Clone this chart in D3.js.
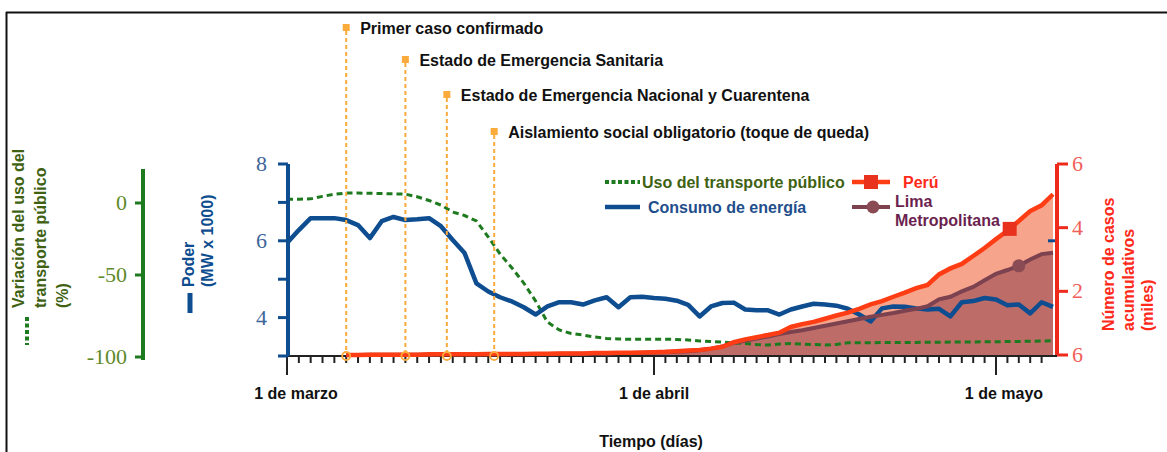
<!DOCTYPE html>
<html><head><meta charset="utf-8">
<script src="https://cdn.jsdelivr.net/npm/d3@7"></script>
<style>body{margin:0;background:#fff}svg{display:block}text{font-family:"Liberation Sans",Arial,sans-serif}</style>
</head><body>
<svg id="c" width="1167" height="452"></svg>
<script>
// ---------------- DATA ----------------
const monthTicks = [0, 31, 61];               // day index of 1 Mar, 1 Apr, 1 May
const monthLabels = ["1 de marzo", "1 de abril", "1 de mayo"];
const lastDay = 66;
// Consumo de energía (MW x 1000), day 0..66
const energy = [5.94,6.28,6.59,6.59,6.59,6.54,6.41,6.07,6.51,6.62,6.54,6.56,6.59,6.38,6.02,5.68,4.89,4.68,4.53,4.42,
  4.27,4.08,4.29,4.40,4.40,4.34,4.45,4.53,4.27,4.53,4.54,4.51,4.49,4.44,4.33,4.03,4.29,4.38,4.39,4.21,
  4.19,4.19,4.08,4.21,4.29,4.36,4.34,4.31,4.23,4.08,3.90,4.24,4.29,4.28,4.24,4.21,4.23,4.03,4.40,4.43,
  4.51,4.47,4.32,4.34,4.11,4.40,4.28];
// Variación del uso del transporte público (%), day 0..66
const transport = [2.6,2.6,2.8,4.5,5.9,6.7,6.7,6.6,6.4,6.2,6.0,4.2,1.7,-1.4,-6.3,-8.7,-12.5,-23.6,-35.4,-45.1,
  -54.9,-65.9,-78.7,-83.5,-85.7,-86.6,-87.8,-88.7,-89.0,-89.2,-89.2,-89.2,-89.2,-89.3,-89.6,-90.2,-90.5,-90.9,-91.5,-91.8,
  -92.4,-92.7,-92.1,-91.8,-92.1,-92.4,-92.7,-92.4,-91.3,-91.3,-91.3,-91.2,-91.2,-91.1,-91.1,-91.0,-91.0,-90.9,-90.9,-90.8,
  -90.7,-90.7,-90.6,-90.5,-90.4,-90.3,-90.1];
// Casos acumulativos (miles), from day 5 to 66
const casesStart = 5;
const peru = [0.00,0.00,0.01,0.01,0.01,0.01,0.01,0.02,0.02,0.02,0.02,0.02,0.03,0.03,0.03,0.03,0.04,0.04,0.05,0.05,
  0.05,0.06,0.06,0.07,0.07,0.08,0.09,0.10,0.12,0.14,0.16,0.20,0.26,0.40,0.49,0.56,0.63,0.70,0.88,0.97,
  1.04,1.14,1.24,1.33,1.45,1.59,1.69,1.83,1.96,2.10,2.20,2.53,2.72,2.86,3.11,3.36,3.64,3.90,4.21,4.52,
  4.70,5.05];
const lima = [0.00,0.00,0.01,0.01,0.01,0.01,0.01,0.01,0.02,0.02,0.02,0.02,0.02,0.02,0.03,0.03,0.03,0.03,0.04,0.04,
  0.04,0.05,0.05,0.06,0.06,0.07,0.08,0.09,0.10,0.12,0.15,0.20,0.27,0.38,0.45,0.52,0.58,0.66,0.72,0.78,
  0.85,0.92,0.99,1.06,1.13,1.20,1.26,1.32,1.39,1.45,1.53,1.75,1.83,2.00,2.14,2.35,2.55,2.67,2.80,3.00,
  3.17,3.21];
const peruMarkerDay = 62.2, limaMarkerDay = 63;
// Eventos
const events = ["Primer caso confirmado","Estado de Emergencia Sanitaria","Estado de Emergencia Nacional y Cuarentena","Aislamiento social obligatorio (toque de queda)"];
const eventDays = [5, 10, 13.5, 17.5];
// Axis ticks
const powerTicks = [3,4,5,6,7,8], powerLabels = [4,6,8];
const transTicks = [0,-50,-100];
const caseTicks = [0,2,4,6], caseTickLabels = ["6","2","4","6"];

// ---------------- DRAW ----------------
const svg = d3.select("#c");
const C = {blue:"#0e4d8f", blueTxt:"#3d6699", green:"#1e7a1e", greenTxt:"#5f8a2a", greenTitle:"#3f6212",
  red:"#ff3d14", redAxis:"#ee2a1a", redTxt:"#f0605a", peruFill:"#f7a48c", limaFill:"#bd6c67", lima:"#7d4250",
  orange:"#fbaa3c", limaTxt:"#6b1f4f"};

const x = d3.scaleLinear().domain(monthTicks).range([287, 654, 996]);
const yP = d3.scaleLinear().domain([3, 8]).range([356, 164]);
const yT = d3.scaleLinear().domain([-100, -50, 0, 23]).range([357, 275, 203, 169]);
const yC = d3.scaleLinear().domain([0, 6]).range([355, 164]);
const axisY = 356;

// frame
svg.append("line").attr("x1",6).attr("x2",1167).attr("y1",12.5).attr("y2",12.5).attr("stroke","#111").attr("stroke-width",2);
svg.append("line").attr("x1",6.5).attr("x2",6.5).attr("y1",12).attr("y2",452).attr("stroke","#111").attr("stroke-width",2);

const caseDays = peru.map((_, i) => i + casesStart);
const areaP = d3.area().x((d,i)=>x(caseDays[i])).y0(yC(0)).y1(d=>yC(d));
svg.append("path").datum(peru).attr("d", areaP).attr("fill", C.peruFill);
svg.append("path").datum(lima).attr("d", areaP).attr("fill", C.limaFill);

// x axis
svg.append("line").attr("x1",x(0)).attr("x2",1057).attr("y1",axisY).attr("y2",axisY).attr("stroke","#222").attr("stroke-width",2);
const minor = d3.range(0, lastDay);
svg.append("g").selectAll("line").data(minor).join("line")
  .attr("x1",d=>x(d)).attr("x2",d=>x(d)).attr("y1",axisY).attr("y2",d=>monthTicks.includes(d)?axisY+19:axisY+7)
  .attr("stroke","#222").attr("stroke-width",2);
svg.append("g").selectAll("text").data(monthTicks).join("text")
  .attr("x",(d,i)=>x(d)+ [9,0,8][i]).attr("y",399).attr("text-anchor","middle")
  .attr("font-size",16).attr("font-weight","bold").attr("fill","#111").text((d,i)=>monthLabels[i]);
svg.append("text").attr("x",651).attr("y",447).attr("text-anchor","middle").attr("font-size",16).attr("font-weight","bold").attr("fill","#111").text("Tiempo (días)");

// lines
const dayIdx = energy.map((_, i) => i);
svg.append("path").datum(transport).attr("fill","none").attr("stroke",C.green).attr("stroke-width",3).attr("stroke-dasharray","6,4")
  .attr("d", d3.line().x((d,i)=>x(dayIdx[i])).y(d=>yT(d)));
svg.append("path").datum(energy).attr("fill","none").attr("stroke",C.blue).attr("stroke-width",4.5).attr("stroke-linejoin","round")
  .attr("d", d3.line().x((d,i)=>x(dayIdx[i])).y(d=>yP(d)));
svg.append("path").datum(lima).attr("fill","none").attr("stroke",C.lima).attr("stroke-width",4)
  .attr("d", d3.line().x((d,i)=>x(caseDays[i])).y(d=>yC(d)));
svg.append("path").datum(peru).attr("fill","none").attr("stroke",C.red).attr("stroke-width",4.5)
  .attr("d", d3.line().x((d,i)=>x(caseDays[i])).y(d=>yC(d)));
// markers on series
const interp = (arr, day) => { const i = Math.floor(day - casesStart), f = day - casesStart - i; return arr[i] + (arr[Math.min(i+1, arr.length-1)] - arr[i]) * f; };
svg.append("rect").attr("x",x(peruMarkerDay)-7).attr("y",yC(interp(peru,peruMarkerDay))-7).attr("width",14).attr("height",14).attr("fill","#e8321e");
svg.append("circle").attr("cx",x(limaMarkerDay)).attr("cy",yC(interp(lima,limaMarkerDay))).attr("r",6.5).attr("fill","#8a4b55");

// events
const evY = [28, 60, 95, 132];
const eg = svg.append("g").selectAll("g").data(eventDays).join("g");
eg.append("line").attr("x1",d=>x(d)).attr("x2",d=>x(d)).attr("y1",(d,i)=>evY[i]+3).attr("y2",axisY-3)
  .attr("stroke",C.orange).attr("stroke-width",2).attr("stroke-dasharray","4,3");
eg.append("rect").attr("x",d=>x(d)-3.5).attr("y",(d,i)=>evY[i]-4).attr("width",7).attr("height",7).attr("fill",C.orange);
eg.append("circle").attr("cx",d=>x(d)).attr("cy",axisY).attr("r",4).attr("fill","none").attr("stroke",C.orange).attr("stroke-width",1.8);
eg.append("text").attr("x",d=>x(d)+14).attr("y",(d,i)=>evY[i]+6).attr("font-size",16).attr("font-weight","bold").attr("fill","#111").text((d,i)=>events[i]);

// power axis (blue)
const bx = 288;
svg.append("line").attr("x1",bx).attr("x2",bx).attr("y1",yP(8)).attr("y2",yP(3)).attr("stroke",C.blue).attr("stroke-width",4);
svg.append("g").selectAll("line").data(powerTicks).join("line").attr("x1",bx-10).attr("x2",bx).attr("y1",d=>yP(d)).attr("y2",d=>yP(d)).attr("stroke",C.blue).attr("stroke-width",3);
svg.append("g").selectAll("text").data(powerLabels).join("text").attr("x",267).attr("y",d=>yP(d)+7).attr("text-anchor","end")
  .style("font-family","Liberation Serif, serif").attr("font-size",22).attr("fill",C.blueTxt).text(d=>d);
svg.append("line").attr("x1",1048).attr("x2",1057).attr("y1",yP(6)).attr("y2",yP(6)).attr("stroke",C.blue).attr("stroke-width",3);
// power title
const pt = svg.append("text").attr("transform","translate(0,287) rotate(-90)").attr("font-size",16).attr("font-weight","bold").attr("fill",C.blue);
pt.append("tspan").attr("x",0).attr("y",194).text("Poder");
pt.append("tspan").attr("x",0).attr("y",213).text("(MW x 1000)");
svg.append("line").attr("x1",190).attr("x2",190).attr("y1",293).attr("y2",313).attr("stroke",C.blue).attr("stroke-width",5);

// transport axis (green)
const gx = 143;
svg.append("line").attr("x1",gx).attr("x2",gx).attr("y1",yT(23)).attr("y2",360).attr("stroke",C.green).attr("stroke-width",4);
svg.append("g").selectAll("line").data(transTicks).join("line").attr("x1",gx-8).attr("x2",gx).attr("y1",d=>yT(d)).attr("y2",d=>yT(d)).attr("stroke",C.green).attr("stroke-width",3);
svg.append("g").selectAll("text").data(transTicks).join("text").attr("x",127).attr("y",d=>yT(d)+7).attr("text-anchor","end")
  .style("font-family","Liberation Serif, serif").attr("font-size",22).attr("fill",C.greenTxt).text(d=>d);
const tt = svg.append("text").attr("transform","translate(0,308) rotate(-90)").attr("font-size",16).attr("font-weight","bold").attr("fill",C.greenTitle);
tt.append("tspan").attr("x",0).attr("y",24).text("Variación del uso del");
tt.append("tspan").attr("x",0).attr("y",46).text("transporte público");
tt.append("tspan").attr("x",0).attr("y",68).text("(%)");
svg.append("line").attr("x1",27).attr("x2",27).attr("y1",317).attr("y2",345).attr("stroke",C.green).attr("stroke-width",4).attr("stroke-dasharray","4,2.5");

// cases axis (red)
const rx = 1057;
svg.append("line").attr("x1",rx).attr("x2",rx).attr("y1",yC(6)).attr("y2",yC(0)).attr("stroke",C.redAxis).attr("stroke-width",4);
svg.append("g").selectAll("line").data(caseTicks).join("line").attr("x1",rx).attr("x2",rx+11).attr("y1",d=>yC(d)).attr("y2",d=>yC(d)).attr("stroke",C.redAxis).attr("stroke-width",3);
svg.append("g").selectAll("text").data(caseTicks).join("text").attr("x",1072).attr("y",d=>yC(d)+7)
  .style("font-family","Liberation Serif, serif").attr("font-size",22).attr("fill",C.redTxt).text((d,i)=>caseTickLabels[i]);
const rt = svg.append("text").attr("transform","translate(0,331) rotate(-90)").attr("font-size",16).attr("font-weight","bold").attr("fill","#ff2a1a");
rt.append("tspan").attr("x",0).attr("y",1114).text("Número de casos");
rt.append("tspan").attr("x",0).attr("y",1134).text("acumulativos");
rt.append("tspan").attr("x",0).attr("y",1153).text("(miles)");

// legend
const lg = svg.append("g");
lg.append("line").attr("x1",605).attr("x2",640).attr("y1",182).attr("y2",182).attr("stroke",C.green).attr("stroke-width",4).attr("stroke-dasharray","4,2.5");
lg.append("text").attr("x",642).attr("y",188).attr("font-size",16).attr("font-weight","bold").attr("fill",C.greenTitle).text("Uso del transporte público");
lg.append("line").attr("x1",605).attr("x2",640).attr("y1",207).attr("y2",207).attr("stroke",C.blue).attr("stroke-width",4.5);
lg.append("text").attr("x",648).attr("y",213).attr("font-size",16).attr("font-weight","bold").attr("fill","#1f4e8c").text("Consumo de energía");
lg.append("line").attr("x1",852).attr("x2",890).attr("y1",182).attr("y2",182).attr("stroke",C.red).attr("stroke-width",4.5);
lg.append("rect").attr("x",864).attr("y",175).attr("width",14).attr("height",14).attr("fill","#e8321e");
lg.append("text").attr("x",903).attr("y",188).attr("font-size",16).attr("font-weight","bold").attr("fill","#ff2a1a").text("Perú");
lg.append("line").attr("x1",852).attr("x2",890).attr("y1",207).attr("y2",207).attr("stroke",C.lima).attr("stroke-width",4);
lg.append("circle").attr("cx",873).attr("cy",207).attr("r",6.5).attr("fill","#8a4b55");
lg.append("text").attr("x",895).attr("y",207).attr("font-size",16).attr("font-weight","bold").attr("fill",C.limaTxt).text("Lima");
lg.append("text").attr("x",895).attr("y",226).attr("font-size",16).attr("font-weight","bold").attr("fill",C.limaTxt).text("Metropolitana");
</script>
</body></html>
